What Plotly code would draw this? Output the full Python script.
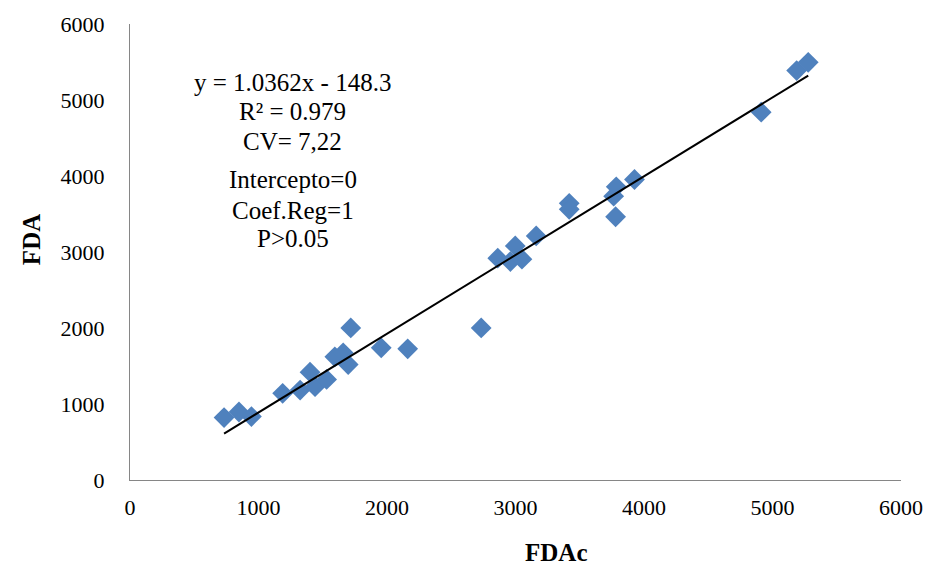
import plotly.graph_objects as go

# Observed pairs: FDAc (calculated) vs FDA (measured)
fdac = [732, 848, 945, 1188, 1324, 1401, 1440, 1530, 1594, 1659, 1698, 1718,
        1955, 2161, 2733, 2862, 2960, 2998, 3050, 3161, 3418, 3418, 3764, 3779,
        3784, 3926, 4912, 5188, 5278]
fda = [822, 895, 835, 1140, 1183, 1419, 1228, 1324, 1621, 1674, 1520, 2001,
       1739, 1726, 2001, 2919, 2874, 3080, 2906, 3211, 3640, 3561, 3735, 3464,
       3857, 3954, 4840, 5387, 5496]

# Linear fit reported on the chart
slope = 1.0362
intercept = -148.3

axis_ticks = [0, 1000, 2000, 3000, 4000, 5000, 6000]

stats_lines = ["y = 1.0362x - 148.3", "R² = 0.979", "CV= 7,22",
               "Intercepto=0", "Coef.Reg=1", "P>0.05"]
stats_y = [0.872, 0.808, 0.742, 0.660, 0.591, 0.530]

x_fit = [min(fdac), max(fdac)]
y_fit = [slope * v + intercept for v in x_fit]

font_family = "Liberation Serif, Times New Roman, serif"

fig = go.Figure()
fig.add_trace(go.Scatter(
    x=fdac, y=fda, mode="markers",
    marker=dict(symbol="diamond", size=16, color="#4F81BD",
                line=dict(width=0)),
    showlegend=False, hoverinfo="x+y",
))
fig.add_trace(go.Scatter(
    x=x_fit, y=y_fit, mode="lines",
    line=dict(color="black", width=2),
    showlegend=False, hoverinfo="skip",
))

axis_style = dict(
    range=[0, 6000], tickvals=axis_ticks, showgrid=False, zeroline=False,
    showline=True, linecolor="#868686", linewidth=1,
    ticks="outside", tickcolor="rgba(0,0,0,0)",
    tickfont=dict(family=font_family, size=22, color="black"),
)

fig.update_xaxes(**axis_style, ticklen=8)
fig.update_yaxes(**axis_style, ticklen=20)

for line, ypos in zip(stats_lines, stats_y):
    fig.add_annotation(
        text=line, xref="paper", yref="paper", x=0.211, y=ypos,
        xanchor="center", yanchor="middle", showarrow=False,
        font=dict(family=font_family, size=25, color="black"),
    )

fig.add_annotation(
    text="<b>FDAc</b>", xref="paper", yref="paper", x=0.552, y=0,
    yshift=-72, xanchor="center", yanchor="middle", showarrow=False,
    font=dict(family=font_family, size=25, color="black"),
)
fig.add_annotation(
    text="<b>FDA</b>", xref="paper", yref="paper", x=0, y=0.526,
    xshift=-99, xanchor="center", yanchor="middle", textangle=-90,
    showarrow=False,
    font=dict(family=font_family, size=25, color="black"),
)

fig.update_layout(
    width=935, height=567,
    margin=dict(l=130, r=30, t=23, b=87),
    paper_bgcolor="white", plot_bgcolor="white",
)

fig.write_html("out.html")
